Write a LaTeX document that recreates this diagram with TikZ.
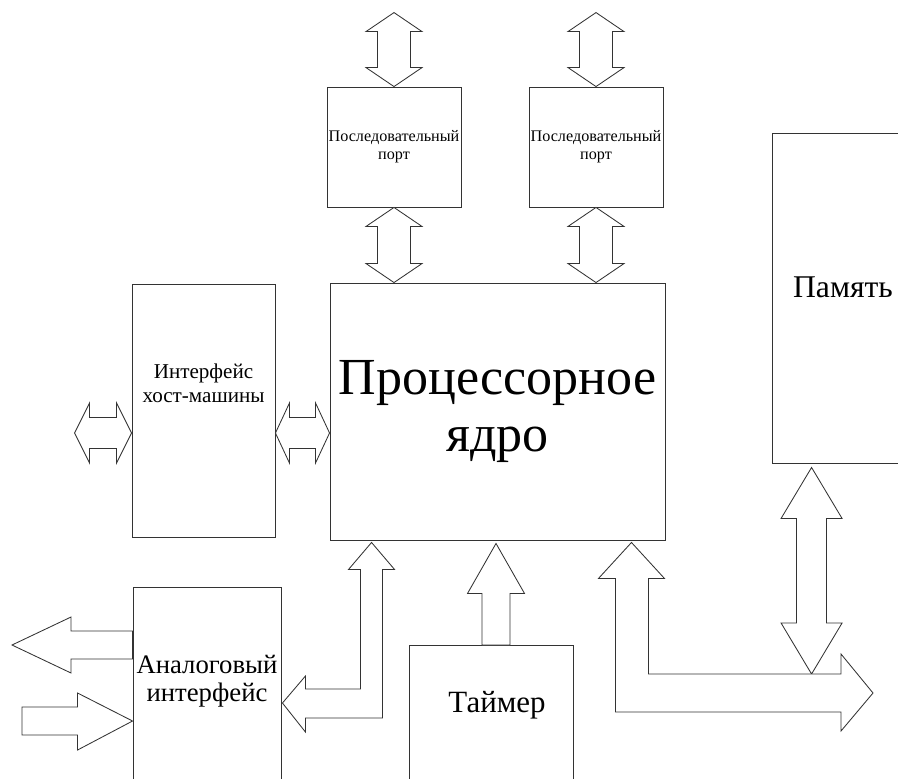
\documentclass[tikz,border=0pt]{standalone}
\usepackage{fontspec}
\setmainfont{Liberation Serif}
\usepackage{tikz}
\usetikzlibrary{calc}

\tikzset{
  box/.style={draw=black!80, line width=0.6pt, inner sep=0pt, align=center},
  bus/.style={draw=black!80, line width=0.6pt, fill=white, line join=miter}
}

% vertical double block arrow: top tip, bottom tip, head length, head half width, shaft half width
\newcommand{\vbus}[5]{%
  \draw[bus] (#1) -- ++(#4,#3) -- ++(-#4+#5,0) -- ($(#2)+(#5,-#3)$) -- ++(#4-#5,0) -- (#2)
    -- ++(-#4,-#3) -- ++(#4-#5,0) -- ($(#1)+(-#5,#3)$) -- ++(-#4+#5,0) -- cycle;}
% horizontal double block arrow: left tip, right tip, head length, head half width, shaft half width
\newcommand{\hbus}[5]{%
  \draw[bus] (#1) -- ++(#3,-#4) -- ++(0,#4-#5) -- ($(#2)+(-#3,-#5)$) -- ++(0,-#4+#5) -- (#2)
    -- ++(-#3,#4) -- ++(0,-#4+#5) -- ($(#1)+(#3,#5)$) -- ++(0,#4-#5) -- cycle;}

\begin{document}
\begin{tikzpicture}[x=0.025cm, y=-0.025cm]
    \useasboundingbox (0,0) rectangle (898,778);
    \clip (0,0) rectangle (898,778);

    \node[box, minimum width=3.35cm, minimum height=3cm, font=\fontsize{11.5}{13}\selectfont] (sp1) at (394,147) {Последовательный\\порт};
    \node[box, minimum width=3.35cm, minimum height=3cm, font=\fontsize{11.5}{13}\selectfont] (sp2) at (596,147) {Последовательный\\порт};
    \node[box, minimum width=8.375cm, minimum height=6.425cm, font=\fontsize{37}{40}\selectfont] (core) at (497.5,411.5) {Процессорное\\ядро};
    \node[box, minimum width=3.575cm, minimum height=6.325cm, font=\fontsize{15}{17.5}\selectfont] (host) at (203.5,410.5) {Интерфейс\\хост-машины\\[0.75cm]};
    \node[box, minimum width=3.55cm, minimum height=8.25cm] (mem) at (843,298) {};
    \node[box, minimum width=4.1cm, minimum height=5cm, anchor=north] (timer) at (491,645) {};
    \node[box, minimum width=3.7cm, minimum height=5cm, anchor=north] (analog) at (207,587) {};
    \node[font=\fontsize{22.5}{24}\selectfont] (memlbl) at (843,287) {Память};
    \node[font=\fontsize{22}{24}\selectfont] (timerlbl) at (497,705) {Таймер};
    \node[font=\fontsize{19}{20}\selectfont, align=center] (analoglbl) at (207,681) {Аналоговый\\интерфейс};

    \coordinate (sp1top) at ($(sp1.north)+(0,-74)$);
    \coordinate (sp2top) at ($(sp2.north)+(0,-74)$);
    \coordinate (hostout) at ($(host.west)+(-57,22.5)$);
    \coordinate (t1) at ($(core.south)+(-1.5,3)$);
    \coordinate (bustip) at ($(core.south east)+(-34,2)$);
    \coordinate (busend) at (873,693);
    \coordinate (mtop) at ($(mem.south west)+(40,4)$);
    \coordinate (mbot) at ($(mtop |- busend)+(0,-19)$);
    \coordinate (atip) at ($(core.south west)+(42,2)$);
    \coordinate (aL) at ($(analog.north east)+(1,116)$);
    \coordinate (aout) at (12,645);
    \coordinate (ain) at ($(analog.north west)+(0,134)$);
    \coordinate (aintail) at (22,721);

    \vbus{sp1top}{sp1.north}{19}{28}{16.5}
    \vbus{sp2top}{sp2.north}{19}{28}{16.5}
    \vbus{sp1.south}{sp1.south |- core.north}{19}{28}{16.5}
    \vbus{sp2.south}{sp2.south |- core.north}{19}{28}{16.5}
    \hbus{hostout}{host.west |- hostout}{15}{30}{15.5}
    \hbus{host.east |- hostout}{core.west |- hostout}{14}{30}{15.5}
    \vbus{mtop}{mbot}{51}{30.5}{15}

    \draw[bus] (t1) -- ++(28.5,50) -- ++(-14.5,0) -- ($(t1 |- timer.north)+(14,0)$) -- ++(-28,0)
      -- ($(t1)+(-14,50)$) -- ++(-14.5,0) -- cycle;
    \draw[bus] (bustip) -- ++(33,36) -- ++(-16,0) |- ($(busend)+(-32,-19)$) -- ++(0,-20) -- (busend)
      -- ++(-32,38) -- ++(0,-19) -| ($(bustip)+(-16,36)$) -- ++(-17,0) -- cycle;
    \draw[bus] (atip) -- ++(23,27) -- ++(-12,0) |- ($(aL)+(23,15)$) -- ++(0,14) -- (aL)
      -- ++(23,-27) -- ++(0,13) -| ($(atip)+(-11,27)$) -- ++(-12,0) -- cycle;
    \draw[bus] (aout) -- ++(59,-28) -- ++(0,14) -- ($(aout -| analog.west)+(0,-14)$) -- ++(0,28)
      -- ($(aout)+(59,14)$) -- ++(0,14) -- cycle;
    \draw[bus] (ain) -- ++(-55,-28) -- ++(0,14) -- ($(aintail)+(0,-14)$) -- ++(0,28)
      -- ($(ain)+(-55,14)$) -- ++(0,15) -- cycle;
\end{tikzpicture}
\end{document}
